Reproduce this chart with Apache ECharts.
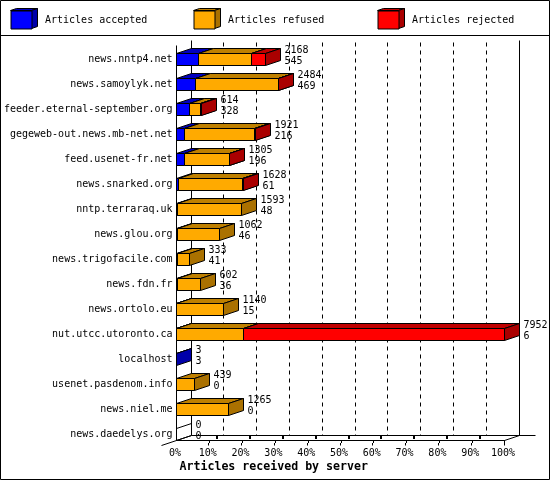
<!DOCTYPE html>
<html>
<head>
<meta charset="utf-8">
<style>html,body{margin:0;padding:0;background:#fff}#c{width:550px;height:480px}</style>
<script src="https://cdn.jsdelivr.net/npm/echarts@6/dist/echarts.min.js"></script>
</head>
<body>
<div id="c"></div>
<script>
const servers = ['news.nntp4.net','news.samoylyk.net','feeder.eternal-september.org','gegeweb-out.news.mb-net.net','feed.usenet-fr.net','news.snarked.org','nntp.terraraq.uk','news.glou.org','news.trigofacile.com','news.fdn.fr','news.ortolo.eu','nut.utcc.utoronto.ca','localhost','usenet.pasdenom.info','news.niel.me','news.daedelys.org'];
const received = [2168,2484,614,1921,1305,1628,1593,1062,333,602,1140,7952,3,439,1265,0];
const accepted = [545,469,328,216,196,61,48,46,41,36,15,6,3,0,0,0];
const refused  = [1283,2006,276,1697,1101,1547,1545,1016,292,566,1125,1630,0,439,1265,0];
const rejected = [340,9,10,8,8,20,0,0,0,0,0,6316,0,0,0,0];
const percentTicks = [0,10,20,30,40,50,60,70,80,90,100];
const legendNames = ['Articles accepted','Articles refused','Articles rejected'];
const xTitle = 'Articles received by server';

const MONO = '"DejaVu Sans Mono", monospace';
const FONT = '10px ' + MONO;
const DX = 15, DY = -5, BAR_H = 12;
const COLORS = {
  accepted: ['#0000ff','#0000bf','#0000aa'],
  refused:  ['#ffaa00','#bf8000','#aa7100'],
  rejected: ['#ff0000','#bf0000','#aa0000']
};
const maxTotal = Math.max(...received);
const snap = v => Math.floor(v - 0.5) + 0.5;
const pct = n => n / maxTotal * 100;

function poly(points, fill) {
  return { type:'polygon', shape:{points}, style:{fill, stroke:'#000', lineWidth:1} };
}
function line(x1,y1,x2,y2,extra) {
  return { type:'line', shape:{x1,y1,x2,y2}, style:Object.assign({stroke:'#000',lineWidth:1,fill:null},extra||{}) };
}

function segmentSeries(name, values, offsets, cols) {
  return {
    name, type:'custom', coordinateSystem:'cartesian2d', silent:true, animation:false, clip:false,
    itemStyle:{color:cols[0]},
    encode:{x:[1,2], y:0},
    data: values.map((v,i)=>[i, pct(offsets[i]), pct(offsets[i]+v), v]),
    renderItem(params, api) {
      if (!api.value(3)) return null;
      const a = api.coord([api.value(1), api.value(0)]);
      const b = api.coord([api.value(2), api.value(0)]);
      const band = api.size([0,1])[1];
      const bottom = a[1] + band/2, top = bottom - BAR_H;
      const x0 = snap(a[0]), x1 = snap(b[0]);
      return { type:'group', children:[
        poly([[x0,top],[x0+DX,top+DY],[x1+DX,top+DY],[x1,top]], cols[1]),
        poly([[x1,top],[x1+DX,top+DY],[x1+DX,bottom+DY],[x1,bottom]], cols[2]),
        poly([[x0,top],[x1,top],[x1,bottom],[x0,bottom]], cols[0])
      ]};
    }
  };
}

const offsetsRefused = accepted.slice();
const offsetsRejected = accepted.map((v,i)=>v+refused[i]);

const frameSeries = {
  type:'custom', coordinateSystem:'cartesian2d', silent:true, animation:false, clip:false,
  encode:{x:0,y:1},
  data: percentTicks.map(p=>[p,0]),
  renderItem(params, api) {
    const p = api.value(0);
    const c = api.coord([p,0]);
    const band = api.size([0,1])[1];
    const top = c[1] - band/2, base = top + band*servers.length;
    const x = snap(c[0]), bx = x + DX, by = base + DY;
    const kids = [];
    if (p === 0) {
      kids.push(line(x, top+5, x, base));
      kids.push(line(bx, top, bx, by));
      kids.push(line(x-DX, base+5, bx, by));
      kids.push(line(bx, by, bx+344, by));
    } else if (p === 100) {
      kids.push(line(bx, top, bx, by));
      kids.push(line(x, base, bx, by));
      kids.push(line(x, base, x, base+5));
    } else {
      kids.push(line(bx, top+2, bx, by, {lineDash:[4,4]}));
      kids.push(line(x, base+5, x, base+2.5));
      kids.push(line(x+1, base+2.5, x+1, base));
      kids.push(line(x+8.5, base-1.5, x+8.5, base-4.5, {lineWidth:2}));
    }
    return {type:'group', children:kids};
  }
};

const emptyRowSeries = {
  type:'custom', coordinateSystem:'cartesian2d', silent:true, animation:false, clip:false,
  encode:{x:0,y:1},
  data: received.map((v,i)=>[pct(v),i,v]),
  renderItem(params, api) {
    if (api.value(2) !== 0) return null;
    const c = api.coord([api.value(0), api.value(1)]);
    const band = api.size([0,1])[1];
    const bottom = c[1]+band/2, top = bottom-BAR_H, x = snap(c[0]);
    return {type:'group', children:[ line(x,top,x+DX,top+DY), line(x,bottom,x+DX,bottom+DY) ]};
  }
};

const labelSeries = {
  type:'custom', coordinateSystem:'cartesian2d', silent:true, animation:false, clip:false,
  encode:{x:0,y:1},
  data: received.map((v,i)=>[pct(v),i,v,accepted[i]]),
  renderItem(params, api) {
    const c = api.coord([api.value(0), api.value(1)]);
    const band = api.size([0,1])[1];
    const bottom = c[1]+band/2, x = snap(c[0]) + DX + 4;
    const txt = (t,y)=>({type:'text', style:{x, y, text:String(t), font:FONT, fill:'#000', textAlign:'left', textVerticalAlign:'middle'}});
    return {type:'group', children:[ txt(api.value(2), bottom-15), txt(api.value(3), bottom-4) ]};
  }
};

function legendDepth(x, cols) {
  const t = 10.5, b = 28.5, r = x + 21;
  return [
    { type:'polygon', silent:true, shape:{points:[[x,t],[x+6,t-2],[r+6,t-2],[r,t]]}, style:{fill:cols[1],stroke:'#000',lineWidth:1} },
    { type:'polygon', silent:true, shape:{points:[[r,t],[r+6,t-2],[r+6,b-2],[r,b]]}, style:{fill:cols[2],stroke:'#000',lineWidth:1} }
  ];
}
function legendAt(left, name) {
  return {
    left, top:10.5, icon:'rect', itemWidth:21, itemHeight:18,
    selectedMode:false, padding:0,
    itemStyle:{borderColor:'#000', borderWidth:1},
    textStyle:{color:'#000', fontSize:10, padding:[0,0,0,8], fontFamily:MONO},
    data:[name]
  };
}

const chart = echarts.init(document.getElementById('c'), null, {renderer:'canvas', width:550, height:480});
chart.setOption({
  animation:false,
  backgroundColor:'#fff',
  textStyle:{fontFamily:MONO},
  grid:{left:176.5, top:40.5, width:328, height:400, containLabel:false},
  xAxis:{
    type:'value', min:0, max:100, interval:10,
    axisLine:{show:true, onZero:false, lineStyle:{color:'#000',width:1}},
    axisTick:{show:false}, splitLine:{show:false},
    axisLabel:{color:'#000', fontSize:10, margin:8, padding:[0,3,0,0], showMinLabel:true, showMaxLabel:true, hideOverlap:false, fontFamily:MONO, formatter:'{value}%'}
  },
  yAxis:{
    type:'category', inverse:true, data:servers,
    axisLine:{show:false}, axisTick:{show:false}, splitLine:{show:false},
    axisLabel:{color:'#000', fontSize:10, margin:4, interval:0, verticalAlign:'top', lineHeight:13, fontFamily:MONO}
  },
  legend:[legendAt(10.5,legendNames[0]), legendAt(193.5,legendNames[1]), legendAt(377.5,legendNames[2])],
  graphic:{elements:[
    {type:'rect', silent:true, z:-10, shape:{x:0.5,y:0.5,width:549,height:479}, style:{fill:null,stroke:'#000',lineWidth:1}},
    {type:'line', silent:true, shape:{x1:0,y1:35.5,x2:550,y2:35.5}, style:{stroke:'#000',lineWidth:1}},
    ...legendDepth(10.5, COLORS.accepted),
    ...legendDepth(193.5, COLORS.refused),
    ...legendDepth(377.5, COLORS.rejected),
    {type:'text', silent:true, x:179.5, y:461, style:{text:xTitle, font:'bold 11.6px '+MONO, fill:'#000'}}
  ]},
  series:[
    frameSeries,
    segmentSeries(legendNames[0], accepted, accepted.map(()=>0), COLORS.accepted),
    segmentSeries(legendNames[1], refused, offsetsRefused, COLORS.refused),
    segmentSeries(legendNames[2], rejected, offsetsRejected, COLORS.rejected),
    emptyRowSeries,
    labelSeries
  ]
});
</script>
</body>
</html>
